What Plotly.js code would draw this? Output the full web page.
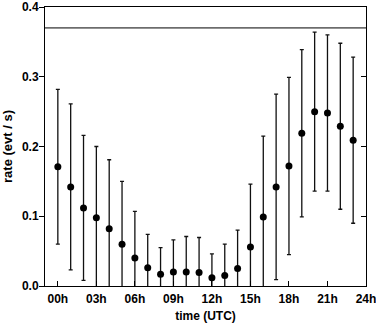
<!DOCTYPE html>
<html><head><meta charset="utf-8">
<script src="https://cdn.plot.ly/plotly-3.0.1.min.js"></script>
<style>html,body{margin:0;padding:0;background:#fff}#plot{width:376px;height:329px}</style>
</head><body><div id="plot"></div>
<script>
const hours = [0,1,2,3,4,5,6,7,8,9,10,11,12,13,14,15,16,17,18,19,20,21,22,23];
const rate  = [0.171,0.142,0.112,0.098,0.082,0.060,0.040,0.026,0.017,0.020,0.020,0.0195,0.012,0.015,0.025,0.056,0.099,0.142,0.172,0.219,0.250,0.248,0.229,0.209];
const rateErr = [0.111,0.119,0.104,0.102,0.099,0.090,0.067,0.048,0.038,0.046,0.051,0.050,0.034,0.045,0.055,0.090,0.116,0.133,0.127,0.120,0.114,0.112,0.119,0.119];
const xTickVals = [0,3,6,9,12,15,18,21,24];
const xTickText = ['00h','03h','06h','09h','12h','15h','18h','21h','24h'];
const yTickVals = [0,0.1,0.2,0.3,0.4];
const threshold = 0.37;

const fnt = {family:'Liberation Sans, Arial, sans-serif', size:12, color:'#000', weight:'bold'};
const traces = [{
  x: hours, y: rate, type:'scatter', mode:'markers',
  marker:{color:'#000', size:7},
  error_y:{type:'data', array:rateErr, visible:true, color:'#111', thickness:1.3, width:2},
  cliponaxis:true, showlegend:false
},{
  x:[hours[0]], y:[rate[0]], yaxis:'y2', type:'scatter', mode:'markers',
  marker:{opacity:0}, hoverinfo:'skip', showlegend:false
}];
const layout = {
  width:376, height:329,
  margin:{l:45, r:10, t:7, b:43},
  paper_bgcolor:'#fff', plot_bgcolor:'#fff',
  showlegend:false,
  font: fnt,
  xaxis:{range:[-1,24], tickvals:xTickVals, ticktext:xTickText, ticks:'inside', ticklen:5, tickwidth:1, tickcolor:'#000',
    showline:true, linecolor:'#000', linewidth:1, mirror:true, showgrid:false, zeroline:false,
    ticklabeloverflow:'allow', ticklabelstandoff:2,
    tickfont:fnt, title:{text:'time (UTC)', font:{...fnt, size:12}, standoff:6}},
  yaxis:{range:[0,0.4], tickvals:yTickVals, tickformat:'.1f', ticks:'outside', ticklen:5, tickwidth:1, tickcolor:'#000',
    showline:true, linecolor:'#000', linewidth:1, showgrid:false, zeroline:false, ticklabelstandoff:-2,
    tickfont:fnt, title:{text:'rate (evt / s)', font:{...fnt, size:13}, standoff:8}},
  yaxis2:{range:[0,0.4], overlaying:'y', side:'right', tickvals:yTickVals, showticklabels:false, ticks:'inside', ticklen:5,
    tickwidth:1, tickcolor:'#000', showline:true, linecolor:'#000', linewidth:1, showgrid:false, zeroline:false},
  shapes:[{type:'line', xref:'paper', x0:0, x1:1, yref:'y', y0:threshold, y1:threshold, line:{color:'#000', width:1}}]
};
Plotly.newPlot('plot', traces, layout, {staticPlot:true, displayModeBar:false});
</script></body></html>
